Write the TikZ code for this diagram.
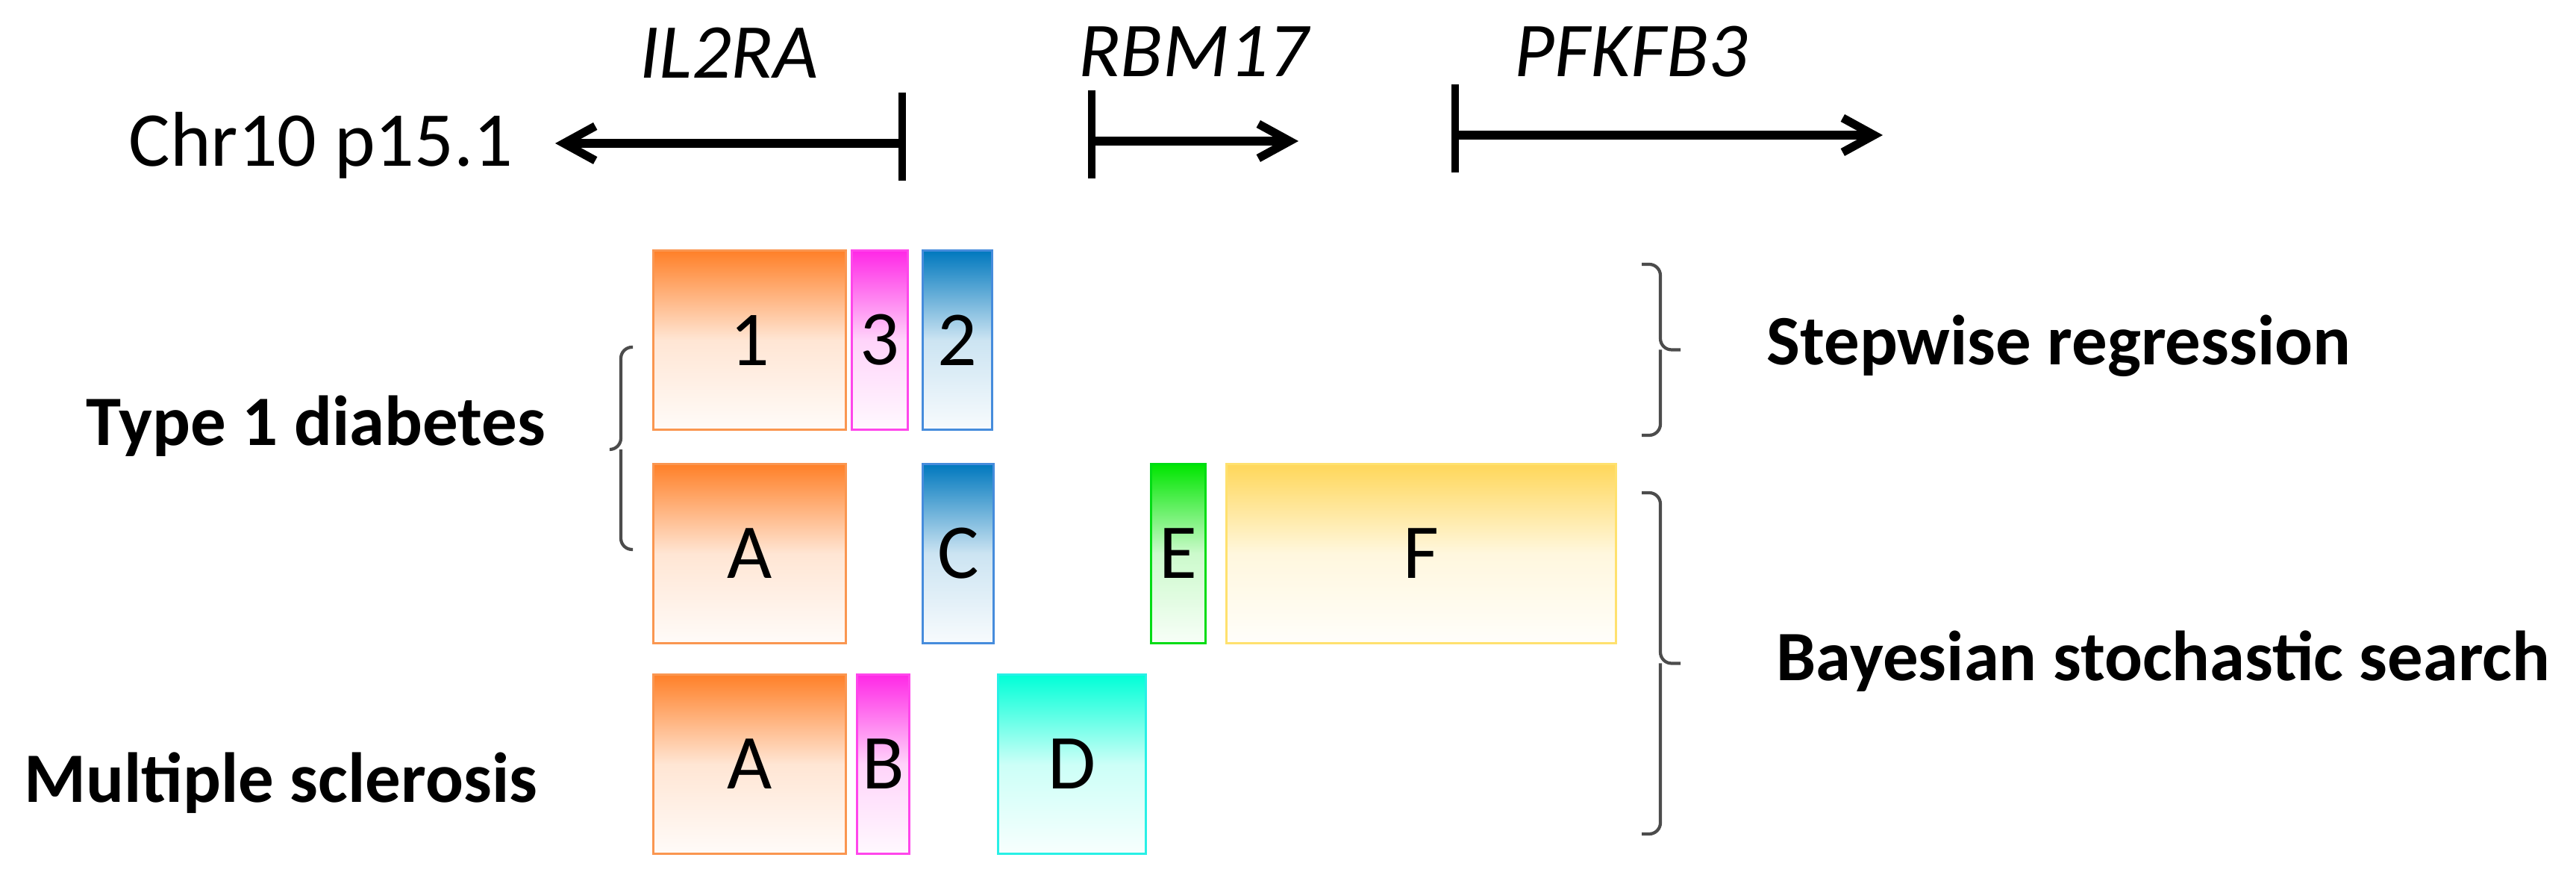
\documentclass[tikz,border=0pt]{standalone}
\usepackage{fontspec}
\setmainfont{Carlito}
\usetikzlibrary{arrows.meta,positioning,calc}
\definecolor{segor}{RGB}{255,128,40}\definecolor{segorb}{RGB}{250,150,80}
\definecolor{segmg}{RGB}{255,40,230}\definecolor{segmgb}{RGB}{255,70,235}
\definecolor{segbl}{RGB}{0,120,190}\definecolor{segblb}{RGB}{70,140,220}
\definecolor{seggr}{RGB}{0,230,0}\definecolor{seggrb}{RGB}{0,220,20}
\definecolor{segyl}{RGB}{255,215,90}\definecolor{segylb}{RGB}{255,225,110}
\definecolor{segcy}{RGB}{0,255,215}\definecolor{segcyb}{RGB}{40,240,230}
\tikzset{
seg/.style 2 args={draw=#2,line width=.8pt,top color=#1,bottom color=#1!3,middle color=#1!20,
  minimum height=2.4cm,inner sep=0pt,anchor=south west,font=\fontsize{29.6}{34}\selectfont},
gene/.style={line width=3.2pt,-{Straight Barb[length=4.2mm,width=4.6mm]}},
genebar/.style={line width=2.8pt},
brk/.style={draw=black!70,line width=1.2pt,rounded corners=1.5mm},
lab/.style={font=\fontsize{27}{32}\selectfont\bfseries,anchor=base west,inner sep=0pt},
gname/.style={font=\fontsize{29.6}{34}\selectfont\itshape,anchor=base,inner sep=0pt}
}
\begin{document}
\begin{tikzpicture}
\useasboundingbox (0,0) rectangle (34.52,11.84);
% locus and genes
\node[anchor=base west,inner sep=0pt,font=\fontsize{29.6}{34}\selectfont] (chr) at (1.72,9.61) {Chr10 p15.1};
\coordinate (ilS) at (12.09,9.92); \coordinate (ilE) at (7.44,9.92);
\coordinate (rbS) at (14.63,9.95); \coordinate (rbE) at (17.40,9.95);
\coordinate (pfS) at (19.50,10.03); \coordinate (pfE) at (25.23,10.03);
\foreach \g in {il,rb,pf}{
\draw[gene] (\g S) -- (\g E);
\draw[genebar] ($(\g S)+(0,.68)$) -- ($(\g S)+(0,-.5)$);}
\node[gname] (gIL) at (9.77,10.79) {IL2RA};
\node[gname] (gRB) at (15.99,10.81) {RBM17};
\node[gname] (gPF) at (21.86,10.81) {PFKFB3};
% stepwise row
\node[seg={segor}{segorb},minimum width=2.58cm] (s1) at (8.74,6.07) {1};
\node[seg={segmg}{segmgb},minimum width=.75cm] (s3) at (11.40,6.07) {3};
\node[seg={segbl}{segblb},minimum width=.93cm] (s2) at (12.35,6.07) {2};
% bayesian T1D row
\node[seg={segor}{segorb},minimum width=2.58cm] (tA) at (8.74,3.21) {A};
\node[seg={segbl}{segblb},minimum width=.95cm] (tC) at (12.35,3.21) {C};
\node[seg={seggr}{seggrb},minimum width=.73cm] (tE) at (15.41,3.21) {E};
\node[seg={segyl}{segylb},minimum width=5.22cm] (tF) at (16.42,3.21) {F};
% bayesian MS row
\node[seg={segor}{segorb},minimum width=2.58cm] (mA) at (8.74,.39) {A};
\node[seg={segmg}{segmgb},minimum width=.70cm] (mB) at (11.47,.39) {B};
\node[seg={segcy}{segcyb},minimum width=1.98cm] (mD) at (13.36,.39) {D};
% brackets
\draw[brk] (8.48,7.19) -| (8.32,5.82) -- (8.18,5.82);
\draw[brk] (8.48,4.48) -| (8.32,5.82);
\foreach \t/\b in {8.30/6.01,5.24/.67}{
\draw[brk] (22.0,\t) -| (22.25,{(\t+\b)/2}) -- (22.52,{(\t+\b)/2});
\draw[brk] (22.0,\b) -| (22.25,{(\t+\b)/2});}
\node[lab] (t1d) at (1.15,5.87) {Type 1 diabetes};
\node[lab] (ms) at (.32,1.09) {Multiple sclerosis};
\node[lab] (sw) at (23.67,6.95) {Stepwise regression};
\node[lab] (bss) at (23.80,2.72) {Bayesian stochastic search};
\end{tikzpicture}
\end{document}
